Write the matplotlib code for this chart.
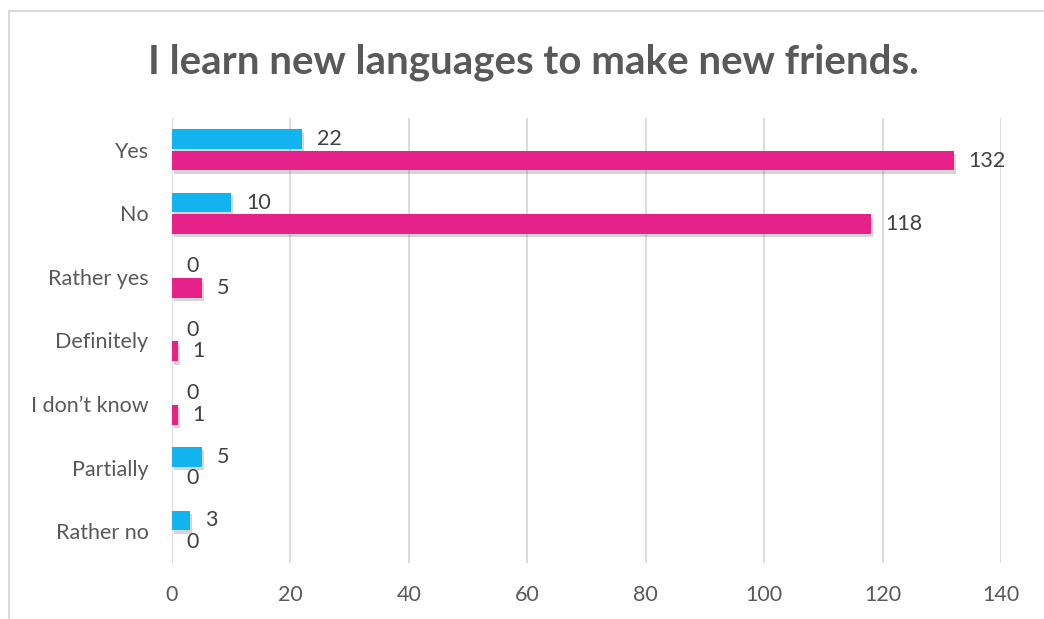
import numpy as np
import matplotlib
matplotlib.use("Agg")
import matplotlib.pyplot as plt
import matplotlib.patheffects as pe
from matplotlib.lines import Line2D

# data (top to bottom)
categories = ["Yes", "No", "Rather yes", "Definitely", "I don\u2019t know", "Partially", "Rather no"]
blue_vals = [22, 10, 0, 0, 0, 5, 3]
pink_vals = [132, 118, 5, 1, 1, 0, 0]
xticks = [0, 20, 40, 60, 80, 100, 120, 140]

plt.rcParams['font.family'] = ['Lato', 'DejaVu Sans']

fig = plt.figure(figsize=(10.44, 6.19), dpi=100)
ax = fig.add_axes([0.1648, 0.0905, 0.794, 0.7189])

y = np.arange(len(categories))[::-1].astype(float)
h = 0.31
shadow = [pe.withSimplePatchShadow(offset=(1.5, -2.5), shadow_rgbFace='#777777', alpha=0.3)]

ax.barh(y + 0.17, blue_vals, height=h, color='#13b3ef', path_effects=shadow, zorder=3)
ax.barh(y - 0.17, pink_vals, height=h, color='#e6218a', path_effects=shadow, zorder=3)

for yy, b, p in zip(y, blue_vals, pink_vals):
    ax.text(b + 2.5, yy + 0.17, str(b), va='center', ha='left', fontsize=15.5, color='#404040')
    ax.text(p + 2.5, yy - 0.17, str(p), va='center', ha='left', fontsize=15.5, color='#404040')

ax.set_xlim(0, 140)
ax.set_ylim(-0.5, 6.5)
ax.set_xticks(xticks)
ax.set_yticks(y)
ax.set_yticklabels(categories)
ax.tick_params(axis='both', length=0, labelsize=15.5, labelcolor='#595959')
ax.tick_params(axis='y', pad=17)
ax.tick_params(axis='x', pad=16)
ax.grid(axis='x', color='#d9d9d9', linewidth=1.3, zorder=0)
ax.set_axisbelow(True)
for s in ax.spines.values():
    s.set_visible(False)

fig.text(0.5105, 0.90, "I learn new languages to make new friends.", ha='center', va='center',
         fontsize=29, fontweight='bold', color='#595959')

# chart frame (only top and left edges visible in the crop)
fig.add_artist(Line2D([9 / 1044, 1.0], [1 - 11 / 619, 1 - 11 / 619], color='#d9d9d9', lw=1.5, transform=fig.transFigure))
fig.add_artist(Line2D([9 / 1044, 9 / 1044], [0, 1 - 11 / 619], color='#d9d9d9', lw=1.5, transform=fig.transFigure))

fig.savefig("out.png", dpi=100)
